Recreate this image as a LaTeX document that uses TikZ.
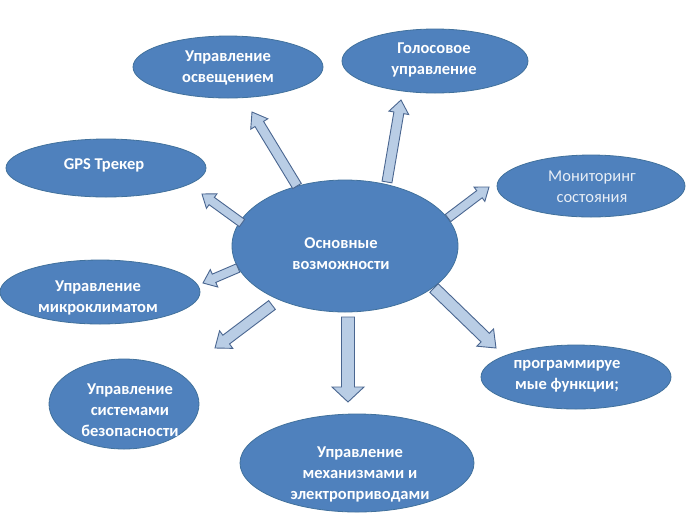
\documentclass[tikz,border=0pt]{standalone}
\usepackage{fontspec}
\setmainfont{Carlito}
\usetikzlibrary{shapes.geometric,calc}
\definecolor{bubblefill}{HTML}{4F81BD}
\definecolor{bubbleline}{HTML}{41719C}
\definecolor{arrfill}{HTML}{B9CDE5}
\definecolor{arrline}{HTML}{4A6690}
\definecolor{softwhite}{HTML}{E8EEF6}
\tikzset{
  bubble/.style={ellipse, fill=bubblefill, draw=bubbleline, line width=0.8pt, inner sep=0pt},
  lbl/.style={text=white, align=center, font=\fontsize{16.5}{21}\selectfont\bfseries, inner sep=0pt},
  lblthin/.style={text=softwhite, align=center, font=\fontsize{16.5}{21}\selectfont, inner sep=0pt},
  blockarrow/.style={fill=arrfill, draw=arrline, line width=0.9pt, line join=miter}
}
\newcommand\blockarr[5]{%
  \coordinate (bhd) at ($(#2)!#5!(#1)$);
  \draw[blockarrow] ($(#1)!#3!90:(#2)$) -- ($(bhd)!#3!90:(#2)$) -- ($(bhd)!#4!90:(#2)$)
    -- (#2) -- ($(bhd)!#4!-90:(#2)$) -- ($(bhd)!#3!-90:(#2)$) -- ($(#1)!#3!-90:(#2)$) -- cycle;
}
\begin{document}
\begin{tikzpicture}[x=1pt,y=-1pt]
\useasboundingbox[fill=white] (0,0) rectangle (687,515);
% bubbles
\node[bubble, minimum width=226pt, minimum height=132pt] (c) at (345,246) {};
\node[bubble, minimum width=190pt, minimum height=62pt] (n1) at (228,67) {};
\node[bubble, minimum width=186pt, minimum height=64pt] (n2) at (435,61) {};
\node[bubble, minimum width=200pt, minimum height=58pt] (n3) at (106,168) {};
\node[bubble, minimum width=188pt, minimum height=62pt] (n4) at (591,186) {};
\node[bubble, minimum width=200pt, minimum height=64pt] (n5) at (100,292) {};
\node[bubble, minimum width=190pt, minimum height=64pt] (n6) at (576,377) {};
\node[bubble, minimum width=150pt, minimum height=90pt] (n7) at (124,404) {};
\node[bubble, minimum width=234pt, minimum height=98pt] (n8) at (357,463) {};
% labels
\node[lbl] (tc) at (341,254) {Основные\\возможности};
\node[lbl] (t1) at (228,68) {Управление\\освещением};
\node[lbl] (t2) at (434,60) {Голосовое\\управление};
\node[lbl] (t3) at (104,165) {GPS Трекер};
\node[lblthin] (t4) at (592,187) {Мониторинг\\состояния};
\node[lbl] (t5) at (98,298) {Управление\\микроклиматом};
\node[lbl] (t6) at (567,376) {программируе\\мые функции;};
\node[lbl] (t7) at (130,410) {Управление\\системами\\безопасности};
\node[lbl] (t8) at (360,474) {Управление\\механизмами и\\электроприводами};
% arrow ends
\coordinate (a1) at (297,186); \coordinate (b1) at (252,112);
\coordinate (a2) at (387,182); \coordinate (b2) at (401,100);
\coordinate (a3) at (242,223); \coordinate (b3) at (202,194);
\coordinate (a4) at (448,218); \coordinate (b4) at (489,187);
\coordinate (a5) at (238,268); \coordinate (b5) at (203,283);
\coordinate (a6) at (272,305); \coordinate (b6) at (215,348);
\coordinate (a7) at (348,317); \coordinate (b7) at (348,402);
\coordinate (a8) at (434,288); \coordinate (b8) at (496,348);
% arrows
\blockarr{a1}{b1}{5pt}{10pt}{14pt}
\blockarr{a2}{b2}{5pt}{10pt}{13pt}
\blockarr{a3}{b3}{4.5pt}{9pt}{12pt}
\blockarr{a4}{b4}{4.5pt}{9pt}{12pt}
\blockarr{a5}{b5}{4.5pt}{9.5pt}{12pt}
\blockarr{a6}{b6}{5.5pt}{11pt}{14pt}
\blockarr{a7}{b7}{6.5pt}{16pt}{15pt}
\blockarr{a8}{b8}{6pt}{12pt}{15pt}
\end{tikzpicture}
\end{document}
